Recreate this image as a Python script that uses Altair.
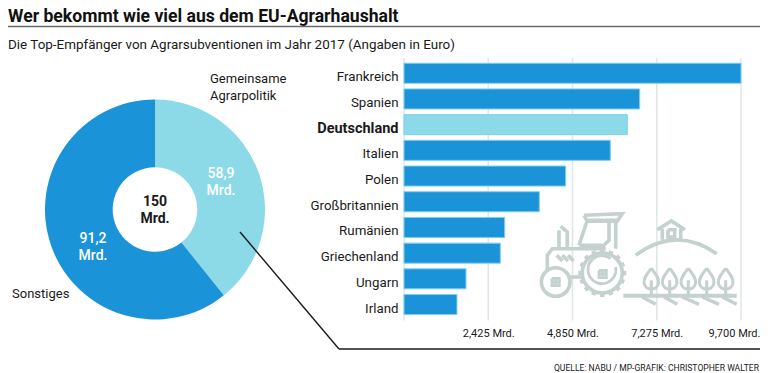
import altair as alt
import pandas as pd

TITLE = "Wer bekommt wie viel aus dem EU-Agrarhaushalt"
SUBTITLE = "Die Top-Empfänger von Agrarsubventionen im Jahr 2017 (Angaben in Euro)"
SOURCE = "QUELLE: NABU / MP-GRAFIK: CHRISTOPHER WALTER"

countries = ["Frankreich", "Spanien", "Deutschland", "Italien", "Polen",
             "Großbritannien", "Rumänien", "Griechenland", "Ungarn", "Irland"]
amounts = [9700, 6784, 6427, 5938, 4654, 3895, 2898, 2773, 1785, 1525]
ticks = [0, 2425, 4850, 7275, 9700]

parts = ["Gemeinsame Agrarpolitik", "Sonstiges"]
part_values = [58.9, 91.2]

BLUE = "#1b93d9"
LIGHT = "#8cd9e8"
GRID = "#dfe6e6"
ICON = "#c4d1cf"
FONT = "Roboto"
OX, OY = 8, 8  # the page margin: all positions below are page pixels


def note(text, x, y, size=13, weight="normal", color="#1a1a1a", align="left", font=FONT):
    return alt.Chart(pd.DataFrame({"t": [text]})).mark_text(
        align=align, baseline="alphabetic", fontSize=size, fontWeight=weight,
        color=color, font=font
    ).encode(x=alt.value(x - OX), y=alt.value(y - OY), text="t:N")


def seg(x1, y1, x2, y2, color="#1a1a1a", width=1.4):
    return alt.Chart(pd.DataFrame({"a": [0]})).mark_rule(color=color, strokeWidth=width).encode(
        x=alt.value(x1 - OX), y=alt.value(y1 - OY), x2=alt.value(x2 - OX), y2=alt.value(y2 - OY))


def zx(v):
    return round(384 + v / 3, 1)


def zy(v):
    return round(187 + v / 3, 1)


def poly(pts):
    return "M" + " L".join(f"{zx(a)} {zy(b)}" for a, b in pts)


def circ(cx, cy, r):
    x, y, r = zx(cx), zy(cy), r / 3
    return f"M{x-r:.1f} {y} A{r:.1f} {r:.1f} 0 1 0 {x+r:.1f} {y} A{r:.1f} {r:.1f} 0 1 0 {x-r:.1f} {y}"


tractor = " ".join([
    circ(655, 258, 60), circ(515, 285, 43),
    poly([(490, 255), (490, 205), (505, 185), (665, 185)]),
    poly([(585, 175), (610, 100), (695, 100), (695, 185)]),
    poly([(600, 85), (715, 80), (700, 103), (610, 103), (600, 85)]),
    poly([(585, 175), (660, 175), (675, 160), (675, 103)]),
    poly([(525, 182), (525, 130)]), poly([(550, 182), (550, 135), (530, 118)]),
    poly([(518, 205), (535, 222)]), poly([(535, 205), (552, 222)]), poly([(552, 205), (569, 222)]),
    poly([(555, 270), (595, 270)]),
])
wheel_inner = " ".join([
    f"M{zx(695)} {zy(240)} A14 14 0 1 1 {zx(680)} {zy(215)}",
    poly([(645, 250), (667, 250), (667, 272), (645, 272), (645, 250)]),
    poly([(656, 250), (656, 272)]), poly([(645, 261), (667, 261)]),
    poly([(504, 274), (526, 274), (526, 296), (504, 296), (504, 274)]),
    poly([(515, 274), (515, 296)]), poly([(504, 285), (526, 285)]),
])
teeth = " ".join(
    poly([(655 + dx, 258 + dy), (655 + ex, 258 + ey)])
    for (dx, dy, ex, ey) in [(0, -60, 0, -72), (42, -42, 51, -51), (60, 0, 72, 0), (42, 42, 51, 51),
                             (0, 60, 0, 72), (-42, 42, -51, 51), (-60, 0, -72, 0), (-42, -42, -51, -51),
                             (23, -55, 27, -66), (55, -23, 66, -27), (55, 23, 66, 27), (23, 55, 27, 66),
                             (-23, 55, -27, 66), (-55, 23, -66, 27), (-55, -23, -66, -27), (-23, -55, -27, -66)]
)
farm = " ".join([
    f"M{zx(755)} {zy(205)} Q{zx(875)} {zy(115)} {zx(998)} {zy(200)}",
    poly([(820, 128), (862, 102), (903, 128)]),
    poly([(835, 125), (835, 158)]), poly([(890, 125), (890, 158)]),
    poly([(852, 128), (872, 128), (872, 150), (852, 150), (852, 128)]),
])
trees = " ".join(
    f"M{zx(c)} {zy(244)} C{zx(c-14)} {zy(262)} {zx(c-24)} {zy(275)} {zx(c-22)} {zy(287)} "
    f"C{zx(c-18)} {zy(313)} {zx(c+18)} {zy(313)} {zx(c+22)} {zy(287)} "
    f"C{zx(c+24)} {zy(275)} {zx(c+14)} {zy(262)} {zx(c)} {zy(244)} "
    + poly([(c, 280), (c, 322)])
    for c in [802, 857, 913, 968, 1025]
)
furrows = " ".join(
    poly([(a, 330), (b, 352)]) for a, b in [(775, 815), (840, 880), (895, 945), (955, 1005), (1015, 1058)]
)


def icon(path, width):
    return alt.Chart(pd.DataFrame({"a": [0]})).mark_point(
        shape=path, size=4, filled=False, stroke=ICON, strokeWidth=width, opacity=1
    ).encode(x=alt.value(-OX), y=alt.value(-OY))


x_scale = alt.Scale(domain=[0, 9700], range=[404 - OX, 741 - OX])
y_scale = alt.Scale(domain=countries, range=[60.4 - OY, 317.4 - OY], paddingInner=0.22, paddingOuter=0.11)
x_axis = alt.Axis(
    values=ticks[1:], title=None, domain=False, ticks=False, grid=False,
    labelExpr="format(datum.value, ',') + ' Mrd.'", labelFont=FONT, labelFontSize=11,
    labelColor="#1a1a1a", labelAlign="center", labelBaseline="alphabetic",
    labelPadding=0, labelFlush=False, labelOverlap=False, offset=-37,
    labelOffset=alt.expr("datum.value == 9700 ? -7 : 0"))

bars_df = pd.DataFrame({"land": countries, "wert": amounts})

grid = alt.Chart(pd.DataFrame({"t": ticks})).mark_rule(color=GRID, strokeWidth=1.5).encode(
    x=alt.X("t:Q", scale=x_scale, axis=x_axis),
    y=alt.value(58 - OY), y2=alt.value(320.5 - OY))

bars = alt.Chart(bars_df).mark_bar(strokeWidth=1, stroke="#7fcfee").encode(
    x=alt.X("wert:Q", scale=x_scale, axis=x_axis),
    y=alt.Y("land:N", scale=y_scale, sort=None, axis=alt.Axis(
        title=None, domain=False, ticks=False, grid=False, labelFont=FONT,
        labelFontSize=alt.expr("datum.value == 'Deutschland' ? 14.5 : 13.3"),
        labelColor="#1a1a1a", labelPadding=0, labelOffset=4, labelAlign="right",
        labelFontWeight=alt.expr("datum.value == 'Deutschland' ? 'bold' : 'normal'"),
        offset=-(398 - OX))),
    color=alt.condition(alt.datum.land == "Deutschland", alt.value(LIGHT), alt.value(BLUE)),
)

pie = alt.Chart(pd.DataFrame({"teil": parts, "wert": part_values})).mark_arc(
    outerRadius=110, innerRadius=42.3
).encode(
    theta=alt.Theta("wert:Q", stack=True),
    color=alt.Color("teil:N", scale=alt.Scale(domain=parts, range=[LIGHT, BLUE]), legend=None),
    x=alt.value(155 - OX), y=alt.value(209.5 - OY),
)

chart = alt.layer(
    grid, bars, pie,
    note(TITLE, 8, 21.5, size=17.6, weight="bold", color="#111111"),
    seg(8, 26.5, 760, 26.5, color="#6b6b6b", width=1.5),
    note(SUBTITLE, 8, 49, size=13.45),
    note("Gemeinsame", 210, 83),
    note("Agrarpolitik", 210, 100),
    note("Sonstiges", 12, 298),
    note("58,9", 221, 178, size=14, weight=500, color="white", align="center"),
    note("Mrd.", 221, 194.5, size=14, weight=500, color="white", align="center"),
    note("91,2", 93, 243, size=14, weight=500, color="white", align="center"),
    note("Mrd.", 93, 259.5, size=14, weight=500, color="white", align="center"),
    note("150", 155, 206, size=14, weight="bold", align="center"),
    note("Mrd.", 155, 222.5, size=14, weight="bold", align="center"),
    seg(240, 232, 339, 349),
    seg(339, 349, 760, 349),
    note(SOURCE, 759, 370.5, size=8.6, align="right"),
    icon(tractor, 3.6), icon(wheel_inner, 2.8), icon(teeth, 4.5),
    icon(farm, 3.6), icon(trees, 3), icon(poly([(718, 326), (1058, 326)]), 4), icon(furrows, 3.5),
).properties(
    width=752, height=365, padding=0, autosize=alt.AutoSizeParams(type="none"),
).configure_view(stroke=None)

chart.save("out.html", embed_options={"renderer": "svg", "actions": False})
